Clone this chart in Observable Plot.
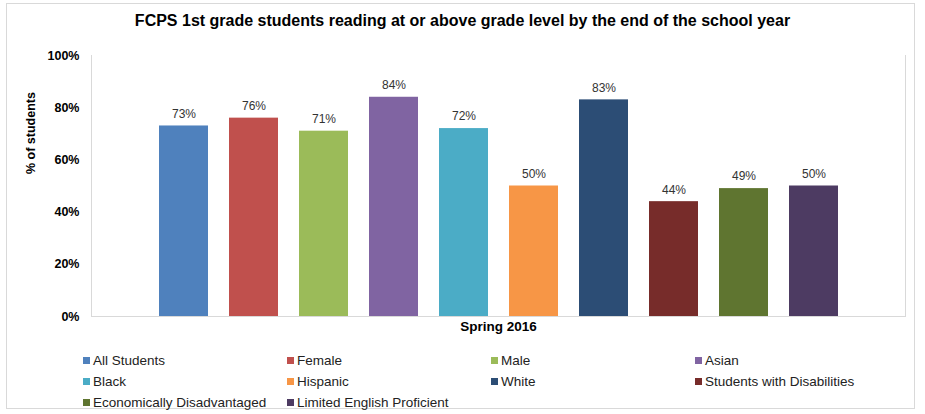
<!DOCTYPE html>
<html>
<head>
<meta charset="utf-8">
<script src="https://cdn.jsdelivr.net/npm/d3@7"></script>
<script src="https://cdn.jsdelivr.net/npm/@observablehq/plot@0.6"></script>
<style>
  html, body { margin: 0; padding: 0; background: #fff; }
  body { font-family: "Liberation Sans", Arial, sans-serif; }
  #wrap { position: relative; width: 925px; height: 414px; overflow: hidden; }
  #border { position: absolute; left: 6px; top: 3px; width: 909px; height: 406px; border: 1px solid #d9d9d9; box-sizing: border-box; }
  #title { position: absolute; left: 0; top: 12px; width: 925px; text-align: center; font-weight: bold; font-size: 16px; line-height: 18px; color: #000; }
  #chart { position: absolute; left: 0; top: 38px; }
  #legend { position: absolute; left: 83px; top: 350px; display: grid; grid-template-columns: 204px 204px 204px 204px; grid-auto-rows: 21px; font-size: 13.5px; color: #222; }
  .item { display: flex; align-items: center; white-space: nowrap; }
  .sw { width: 7px; height: 7px; margin-right: 3px; flex: none; }
</style>
</head>
<body>
<div id="wrap">
  <div id="border"></div>
  <div id="title">FCPS 1st grade students reading at or above grade level by the end of the school year</div>
  <div id="chart"></div>
  <div id="legend"></div>
</div>
<script>
const groups = ["All Students", "Female", "Male", "Asian", "Black", "Hispanic", "White", "Students with Disabilities", "Economically Disadvantaged", "Limited English Proficient"];
const values = [73, 76, 71, 84, 72, 50, 83, 44, 49, 50];
const colors = ["#4F81BD", "#C0504D", "#9BBB59", "#8064A2", "#4BACC6", "#F79646", "#2C4D75", "#772C2A", "#5F7530", "#4D3B62"];
const yTicks = [0, 20, 40, 60, 80, 100];
const xLabel = "Spring 2016";
const yLabel = "% of students";

const data = groups.map((g, i) => ({group: g, value: values[i]}));

const plot = Plot.plot({
  width: 925,
  height: 304,
  marginLeft: 91,
  marginRight: 20,
  marginTop: 17,
  marginBottom: 26,
  style: {fontFamily: "'Liberation Sans', Arial, sans-serif", background: "transparent"},
  x: {domain: groups, paddingInner: 0.304, paddingOuter: 0.93, axis: null},
  y: {domain: [0, 100], ticks: yTicks, tickFormat: d => d + "%", label: null},
  color: {domain: groups, range: colors},
  marks: [
    Plot.axisY({ticks: yTicks, tickFormat: d => d + "%", tickSize: 0, tickPadding: 12, fontSize: 12.5, fontWeight: "bold", fill: "#000", label: null}),
    Plot.frame({anchor: "left", stroke: "#d9d9d9"}),
    Plot.frame({anchor: "right", stroke: "#d9d9d9"}),
    Plot.barY(data, {x: "group", y: "value", fill: "group"}),
    Plot.ruleY([0], {stroke: "#d9d9d9"}),
    Plot.text(data, {x: "group", y: "value", text: d => d.value + "%", dy: -12, fontSize: 12, fill: "#333"}),
    Plot.text([xLabel], {frameAnchor: "bottom", dy: 14, fontSize: 13.5, fontWeight: "bold", fill: "#000"}),
    Plot.text([yLabel], {frameAnchor: "left", dx: -61, dy: -12, rotate: -90, fontSize: 12.5, fontWeight: "bold", fill: "#000"})
  ]
});
document.getElementById("chart").appendChild(plot);

const color = plot.scale("color");
const legend = document.getElementById("legend");
groups.forEach((g, i) => {
  const item = document.createElement("div");
  item.className = "item";
  const sw = document.createElement("span");
  sw.className = "sw";
  sw.style.background = color.range[i];
  const t = document.createElement("span");
  t.textContent = g;
  item.appendChild(sw);
  item.appendChild(t);
  legend.appendChild(item);
});
</script>
</body>
</html>
